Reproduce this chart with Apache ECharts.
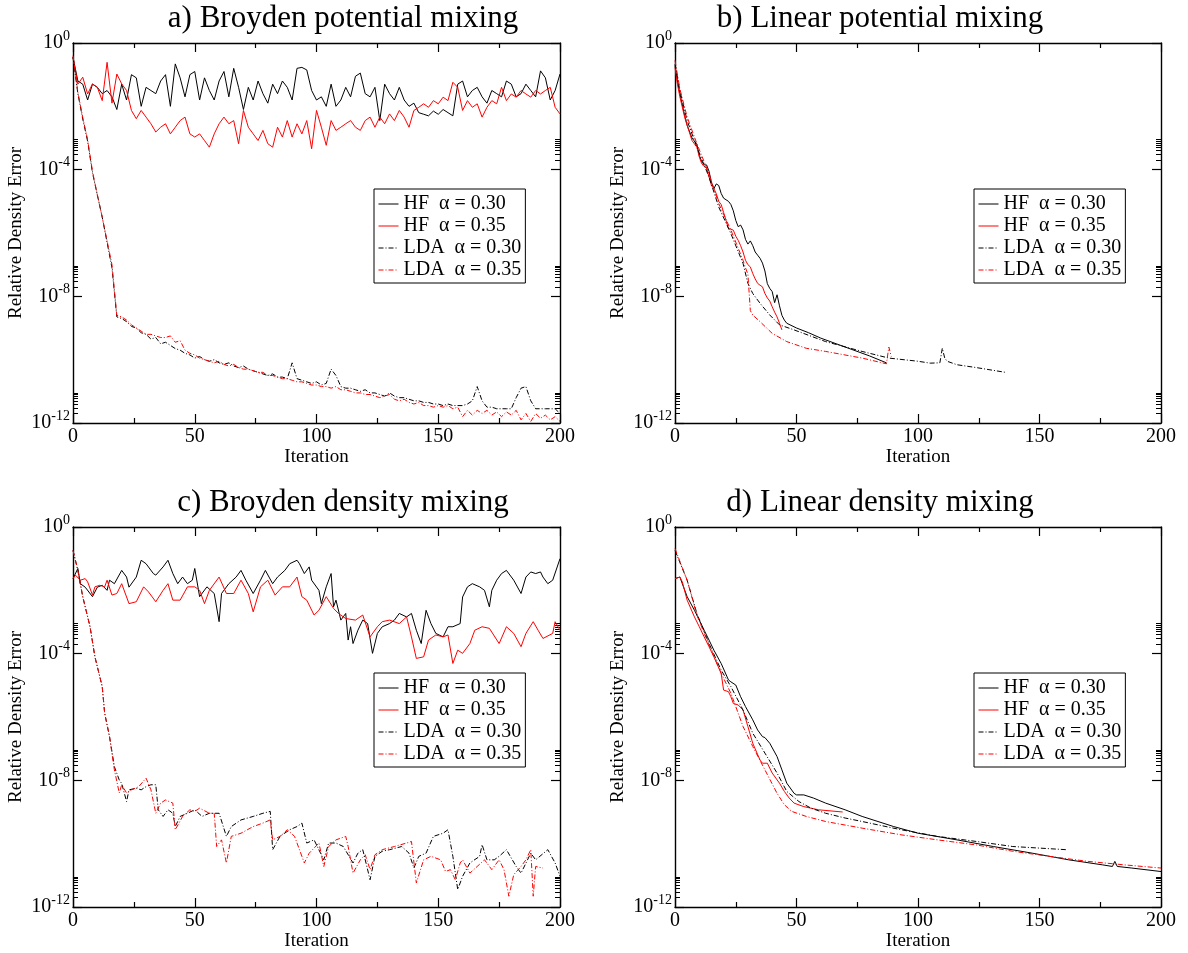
<!DOCTYPE html>
<html><head><meta charset="utf-8">
<script src="https://cdn.jsdelivr.net/npm/echarts@6/dist/echarts.min.js"></script>
<style>html,body{margin:0;padding:0;background:#fff}#c{width:1188px;height:953px}</style>
</head><body><div id="c"></div>
<script>
// ---------- text ----------
const SERIES_NAMES = ['HF  α = 0.30', 'HF  α = 0.35', 'LDA  α = 0.30', 'LDA  α = 0.35'];
const PANEL_TITLES = ['a) Broyden potential mixing', 'b) Linear potential mixing', 'c) Broyden density mixing', 'd) Linear density mixing'];
const X_NAME = 'Iteration';
const Y_NAME = 'Relative Density Error';
// y tick labels are 10^k for these exponents
const Y_EXPONENTS = [-12, -8, -4, 0];
const Y_MINOR_MULTIPLIERS = [2, 3, 4, 5, 6, 7, 8, 9];

// ---------- data (values stored as log10 of the relative density error) ----------
// panel a: every second iteration
const A_ITER = [0,2,4,6,8,10,12,14,16,18,20,22,24,26,28,30,32,34,36,38,40,42,44,46,48,50,52,54,56,58,60,62,64,66,68,70,72,74,76,78,80,82,84,86,88,90,92,94,96,98,100,102,104,106,108,110,112,114,116,118,120,122,124,126,128,130,132,134,136,138,140,142,144,146,148,150,152,154,156,158,160,162,164,166,168,170,172,174,176,178,180,182,184,186,188,190,192,194,196,198,200];
const A_HF30 = [-0.45,-1.2,-1.3,-1.8,-1.3,-1.4,-1.6,-1.5,-1.7,-2.1,
 -1.3,-1.8,-1.0,-1.1,-2.0,-1.4,-1.5,-1.6,-1.2,-1.0,
 -2.0,-0.66,-1.1,-1.7,-1.0,-0.9,-1.8,-1.1,-1.5,-1.8,
 -1.2,-0.9,-1.7,-0.8,-1.4,-2.1,-1.4,-1.8,-1.2,-1.6,
 -1.9,-1.3,-1.6,-1.2,-1.4,-1.8,-0.8,-0.77,-0.85,-1.5,
 -1.8,-1.7,-2.0,-1.3,-2.0,-1.8,-1.4,-1.7,-1.05,-0.95,
 -1.6,-1.7,-1.4,-2.45,-1.3,-1.6,-1.8,-1.4,-1.8,-2.0,
 -1.9,-2.2,-2.25,-2.3,-2.15,-2.25,-2.1,-2.2,-2.3,-1.3,
 -1.2,-1.7,-1.5,-1.4,-1.7,-1.9,-1.5,-1.6,-1.7,-1.2,
 -1.3,-1.7,-1.6,-1.3,-1.5,-1.7,-0.88,-1.1,-1.8,-1.5,
 -0.98];
const A_HF35 = [-0.45,-1.3,-1.08,-1.61,-1.29,-1.4,-1.82,-0.61,-1.9,-0.98,
 -1.29,-1.5,-2.13,-2.39,-2.13,-2.34,-2.55,-2.81,-2.66,-2.55,
 -2.87,-2.66,-2.45,-2.34,-2.87,-2.97,-2.87,-3.08,-3.29,-2.87,
 -2.55,-2.34,-2.55,-2.45,-3.18,-2.13,-2.66,-2.87,-3.08,-2.76,
 -3.18,-3.29,-2.66,-2.97,-2.45,-2.97,-2.55,-2.87,-2.45,-3.34,
 -2.13,-2.66,-3.23,-2.45,-2.76,-2.66,-2.55,-2.45,-2.66,-2.76,
 -2.45,-2.34,-2.66,-2.34,-2.55,-2.24,-2.45,-2.13,-2.34,-2.66,
 -2.13,-2.03,-1.92,-2.03,-1.82,-1.92,-1.71,-1.82,-1.24,-1.4,
 -2.13,-1.82,-2.03,-1.92,-2.34,-2.03,-1.82,-1.92,-1.4,-1.82,
 -1.61,-1.71,-1.5,-1.61,-1.71,-1.5,-1.61,-1.5,-1.4,-2.03,
 -2.24];
const A_LDA30 = [-0.45,-1.6,-2.4,-3.1,-4.1,-4.8,-5.5,-6.3,-7.1,-8.65,
 -8.7,-8.8,-8.95,-9.0,-9.15,-9.2,-9.35,-9.3,-9.5,-9.45,
 -9.55,-9.65,-9.7,-9.8,-9.85,-9.95,-9.9,-10.0,-10.05,-10.0,
 -10.1,-10.15,-10.1,-10.2,-10.25,-10.2,-10.3,-10.35,-10.4,-10.45,
 -10.5,-10.45,-10.55,-10.55,-10.6,-10.1,-10.6,-10.65,-10.7,-10.75,
 -10.7,-10.8,-10.75,-10.3,-10.5,-10.85,-10.9,-10.9,-10.95,-11.0,
 -10.95,-11.05,-11.05,-11.1,-11.15,-11.05,-11.15,-11.2,-11.2,-11.25,
 -11.3,-11.3,-11.35,-11.35,-11.4,-11.4,-11.45,-11.4,-11.45,-11.45,
 -11.45,-11.4,-11.3,-10.85,-11.3,-11.5,-11.5,-11.55,-11.55,-11.55,
 -11.55,-11.2,-10.9,-10.85,-11.3,-11.55,-11.55,-11.55,-11.55,-11.55,
 -11.7];
const A_LDA35 = [-0.4,-1.55,-2.35,-3.05,-4.05,-4.8,-5.5,-6.25,-7.0,-8.6,
 -8.65,-8.75,-8.9,-9.0,-9.1,-9.2,-9.2,-9.25,-9.3,-9.3,
 -9.25,-9.45,-9.4,-9.7,-9.8,-9.85,-9.95,-10.0,-10.05,-10.1,
 -10.05,-10.15,-10.2,-10.15,-10.25,-10.3,-10.3,-10.35,-10.4,-10.4,
 -10.5,-10.5,-10.55,-10.6,-10.6,-10.65,-10.7,-10.7,-10.75,-10.8,
 -10.8,-10.85,-10.85,-10.9,-10.85,-10.95,-10.95,-11.0,-11.05,-11.05,
 -11.1,-11.1,-11.15,-11.2,-11.15,-11.1,-11.25,-11.3,-11.25,-11.35,
 -11.4,-11.35,-11.45,-11.45,-11.5,-11.45,-11.5,-11.45,-11.55,-11.5,
 -11.8,-11.6,-11.75,-11.6,-11.7,-11.6,-11.75,-11.65,-11.8,-11.65,
 -11.75,-11.6,-11.9,-11.7,-11.95,-11.7,-11.85,-11.75,-11.9,-11.8,
 -11.95];

// panels b, c, d: [iteration, log10 error]
const B_HF30 = [[0,-0.71],[1,-1.2],[2,-1.6],[4,-2.3],[5,-2.6],[7,-3.0],[9,-3.2],[10,-3.55],[11,-3.75],[12,-3.85],[13,-3.85],[14,-4.05],[15,-4.4],[16,-4.6],[17,-4.45],[18,-4.5],[19,-4.75],[20,-4.9],[21,-4.95],[22,-5.0],[23,-5.1],[24,-5.3],[25,-5.6],[26,-5.8],[27,-5.75],[28,-5.9],[29,-6.2],[30,-6.35],[31,-6.25],[32,-6.4],[33,-6.6],[34,-6.7],[35,-6.8],[36,-6.95],[37,-7.2],[38,-7.6],[39,-7.75],[40,-7.85],[41,-8.2],[42,-7.95],[43,-8.3],[44,-8.6],[45,-8.75],[46,-8.85],[50,-9.0],[55,-9.15],[60,-9.32],[70,-9.6],[80,-9.88],[87,-10.1]];
const B_HF35 = [[0,-0.77],[1,-1.3],[2,-1.7],[4,-2.35],[5,-2.6],[7,-3.08],[9,-3.29],[10,-3.6],[11,-3.81],[12,-3.9],[13,-3.95],[14,-4.23],[15,-4.5],[16,-4.6],[17,-4.76],[18,-5.0],[19,-5.1],[20,-5.35],[21,-5.6],[22,-5.86],[23,-5.88],[24,-5.91],[25,-6.1],[26,-6.23],[27,-6.4],[28,-6.6],[29,-6.86],[30,-7.0],[31,-7.07],[32,-7.28],[33,-7.45],[34,-7.59],[35,-7.65],[36,-7.7],[37,-7.91],[38,-8.05],[39,-8.15],[40,-8.33],[41,-8.5],[42,-8.65],[43,-8.85],[44,-9.06]];
const B_LDA30 = [[0,-0.66],[2,-1.5],[5,-2.45],[9,-3.29],[14,-4.23],[18,-5.18],[23,-6.02],[28,-6.96],[30,-7.59],[32,-7.91],[35,-8.22],[39,-8.59],[43,-8.9],[49,-9.06],[62,-9.43],[77,-9.74],[88,-9.95],[100,-10.05],[105,-10.11],[109,-10.1],[110,-9.64],[111,-9.95],[112,-10.05],[116,-10.16],[124,-10.25],[136,-10.4]];
const B_LDA35 = [[0,-0.55],[2,-1.45],[5,-2.34],[9,-3.18],[14,-4.13],[18,-5.07],[23,-5.91],[28,-6.86],[29,-7.1],[30,-7.3],[31,-8.45],[32,-8.59],[35,-8.8],[40,-9.17],[46,-9.43],[54,-9.64],[62,-9.74],[77,-9.95],[87,-10.13],[88,-9.6],[89,-9.9]];

const C_HF30 = [[0,-1.63],[2,-1.31],[3,-1.79],[5,-1.9],[8,-2.2],[10,-1.9],[12,-1.84],[14,-2.0],[15,-1.68],[17,-1.79],[20,-1.37],[22,-1.58],[23,-1.9],[26,-1.58],[28,-1.05],[30,-1.16],[33,-1.47],[34,-1.52],[37,-1.26],[39,-1.05],[41,-1.47],[43,-1.79],[45,-1.58],[47,-1.79],[49,-1.68],[50,-1.31],[52,-2.2],[55,-1.89],[58,-2.1],[60,-2.99],[61,-2.1],[64,-1.79],[67,-1.58],[69,-1.37],[71,-1.68],[74,-2.1],[77,-1.68],[79,-1.37],[82,-1.79],[84,-1.58],[87,-1.37],[89,-1.16],[92,-1.05],[93,-1.16],[95,-1.47],[97,-1.26],[98,-1.68],[101,-2.0],[102,-2.42],[104,-1.89],[106,-1.47],[107,-2.52],[108,-2.31],[110,-2.94],[112,-2.73],[113,-3.57],[114,-3.15],[115,-3.68],[117,-3.26],[119,-2.94],[121,-3.05],[123,-3.99],[125,-3.36],[127,-3.15],[130,-3.05],[132,-2.94],[134,-2.73],[137,-2.84],[139,-2.73],[141,-3.26],[143,-3.68],[145,-2.63],[147,-3.05],[149,-3.36],[152,-3.47],[154,-3.15],[156,-3.15],[159,-3.05],[160,-2.21],[162,-1.89],[164,-1.79],[167,-1.89],[169,-2.0],[171,-2.52],[172,-2.0],[174,-1.68],[176,-1.47],[178,-1.37],[181,-1.68],[184,-2.1],[186,-1.58],[188,-1.42],[190,-1.47],[192,-1.42],[193,-1.58],[195,-1.79],[197,-1.68],[200,-1.0]];
const C_HF35 = [[0,-1.63],[1,-1.52],[3,-1.68],[5,-1.63],[6,-1.73],[8,-2.15],[9,-1.89],[11,-1.84],[13,-1.89],[14,-1.68],[16,-2.15],[18,-2.1],[20,-1.79],[23,-2.42],[26,-2.36],[29,-1.89],[31,-2.05],[34,-2.36],[37,-2.0],[39,-1.79],[41,-2.31],[44,-2.31],[47,-1.89],[50,-1.89],[52,-2.0],[54,-2.42],[56,-2.0],[60,-1.58],[63,-2.1],[66,-2.1],[69,-1.68],[72,-2.1],[74,-2.68],[77,-1.89],[80,-1.68],[83,-2.15],[86,-1.89],[89,-1.89],[92,-1.58],[94,-2.2],[96,-2.31],[99,-2.78],[101,-2.63],[104,-2.2],[107,-2.57],[109,-2.73],[112,-2.89],[116,-2.94],[119,-2.78],[122,-3.47],[125,-3.15],[127,-2.99],[130,-2.94],[134,-3.05],[137,-2.84],[139,-3.47],[141,-4.15],[144,-4.1],[146,-3.57],[149,-3.41],[152,-3.47],[154,-3.41],[156,-4.31],[158,-3.89],[160,-3.99],[163,-3.68],[165,-3.26],[168,-3.15],[171,-3.2],[175,-3.68],[178,-3.15],[181,-3.36],[184,-3.78],[186,-3.36],[189,-2.99],[191,-3.26],[193,-3.52],[197,-3.36],[198,-2.99],[200,-3.26]];
const C_LDA30 = [[0,-0.74],[2,-1.37],[4,-2.2],[7,-3.15],[9,-4.1],[12,-5.04],[13,-5.88],[15,-6.62],[17,-7.57],[19,-7.99],[20,-8.1],[22,-8.67],[23,-8.3],[26,-8.25],[28,-8.3],[30,-8.2],[32,-8.14],[34,-8.14],[35,-8.93],[37,-9.14],[39,-8.93],[41,-9.04],[42,-9.46],[44,-9.14],[47,-9.04],[50,-8.93],[53,-9.14],[56,-9.04],[60,-9.04],[63,-9.77],[65,-9.46],[69,-9.25],[74,-9.14],[78,-9.04],[81,-8.98],[82,-10.19],[85,-9.77],[89,-9.56],[92,-9.46],[94,-9.35],[96,-9.98],[99,-9.88],[103,-10.51],[105,-9.98],[108,-9.98],[111,-10.09],[115,-10.61],[117,-10.3],[119,-10.19],[122,-11.14],[124,-10.4],[127,-10.24],[130,-10.19],[135,-10.09],[138,-10.3],[140,-10.77],[142,-10.4],[145,-10.3],[148,-9.77],[152,-9.67],[154,-9.56],[156,-10.4],[158,-11.45],[160,-11.03],[163,-10.61],[167,-10.4],[168,-10.03],[170,-10.51],[173,-10.51],[175,-10.4],[178,-10.19],[182,-10.72],[184,-10.93],[188,-10.3],[190,-10.51],[195,-10.19],[198,-10.61],[200,-11.03]];
const C_LDA35 = [[0,-0.74],[2,-1.37],[4,-2.2],[7,-3.15],[9,-4.1],[12,-5.04],[13,-5.88],[15,-6.62],[17,-7.67],[19,-8.4],[20,-8.14],[22,-8.4],[24,-8.3],[27,-8.2],[30,-7.93],[32,-8.3],[34,-9.04],[36,-8.72],[38,-8.62],[41,-8.72],[42,-9.56],[45,-9.14],[48,-8.93],[50,-8.98],[52,-8.88],[56,-9.04],[58,-9.04],[59,-10.09],[61,-9.88],[63,-10.61],[65,-9.77],[69,-9.67],[74,-9.46],[78,-9.35],[81,-9.25],[82,-9.88],[85,-9.77],[88,-9.56],[91,-9.77],[95,-10.61],[97,-10.3],[101,-9.98],[103,-10.72],[105,-10.09],[108,-9.88],[112,-9.77],[113,-10.09],[115,-10.93],[118,-10.51],[120,-10.35],[122,-10.82],[124,-10.35],[127,-10.19],[132,-10.09],[137,-9.98],[139,-9.93],[141,-11.24],[144,-10.51],[147,-10.4],[151,-10.51],[153,-10.88],[155,-10.82],[157,-11.14],[159,-10.61],[160,-10.51],[163,-10.93],[166,-10.72],[169,-10.51],[172,-10.82],[175,-10.51],[177,-10.82],[179,-11.66],[181,-10.98],[184,-10.72],[186,-10.51],[188,-10.19],[189,-11.66],[190,-10.72],[193,-10.77]];

const D_HF30 = [[0,-1.63],[2,-1.58],[3,-1.79],[5,-2.2],[8,-2.63],[10,-2.94],[12,-3.26],[14,-3.57],[16,-3.89],[19,-4.31],[22,-4.83],[23,-4.89],[25,-4.99],[27,-5.36],[29,-5.67],[32,-6.09],[34,-6.41],[36,-6.62],[37,-6.65],[39,-6.83],[42,-7.25],[44,-7.67],[46,-8.09],[49,-8.41],[50,-8.46],[53,-8.46],[57,-8.56],[62,-8.72],[70,-8.93],[77,-9.14],[90,-9.46],[100,-9.67],[116,-9.88],[131,-10.09],[147,-10.3],[162,-10.51],[176,-10.67],[180,-10.72],[181,-10.56],[182,-10.72],[188,-10.77],[200,-10.88]];
const D_HF35 = [[0,-1.63],[2,-1.58],[3,-1.73],[5,-2.31],[8,-2.84],[10,-3.15],[12,-3.47],[14,-3.78],[16,-4.1],[19,-4.62],[20,-5.15],[22,-5.2],[23,-5.36],[24,-5.57],[26,-5.62],[28,-5.78],[30,-6.3],[32,-6.83],[35,-7.36],[36,-7.46],[38,-7.46],[40,-7.77],[43,-8.09],[45,-8.35],[47,-8.56],[49,-8.72],[53,-8.83],[59,-8.93],[69,-9.0]];
const D_LDA30 = [[0,-0.74],[5,-1.68],[9,-2.73],[14,-3.68],[19,-4.52],[23,-5.04],[28,-5.78],[32,-6.51],[37,-7.14],[42,-7.77],[46,-8.35],[51,-8.67],[56,-8.88],[62,-9.04],[70,-9.19],[77,-9.3],[93,-9.56],[108,-9.77],[124,-9.93],[139,-10.09],[161,-10.19]];
const D_LDA35 = [[0,-0.68],[5,-1.68],[9,-2.78],[14,-3.73],[19,-4.62],[23,-5.25],[28,-6.3],[32,-6.93],[37,-7.67],[42,-8.41],[45,-8.77],[48,-8.98],[54,-9.14],[62,-9.3],[77,-9.51],[93,-9.72],[108,-9.88],[124,-10.04],[139,-10.24],[154,-10.4],[170,-10.56],[185,-10.67],[200,-10.77]];

// ---------- build ----------
const zip = (xs, ys) => xs.map((x, i) => [x, ys[i]]);
const PANELS = [
  [zip(A_ITER, A_HF30), zip(A_ITER, A_HF35), zip(A_ITER, A_LDA30), zip(A_ITER, A_LDA35)],
  [B_HF30, B_HF35, B_LDA30, B_LDA35],
  [C_HF30, C_HF35, C_LDA30, C_LDA35],
  [D_HF30, D_HF35, D_LDA30, D_LDA35]
];
const toValues = pairs => pairs.map(p => [p[0], Math.pow(10, p[1])]);

const SERIF = "'Liberation Serif', 'Times New Roman', serif";
const GRIDS = [
  {left: 73, top: 43, width: 487, height: 380},
  {left: 675, top: 43, width: 486, height: 380},
  {left: 73, top: 527, width: 487, height: 380},
  {left: 675, top: 527, width: 486, height: 380}
];
const TITLE_POS = [[343, 3], [880, 3], [343, 487], [880, 487]];
const LEGEND_POS = [[374, 189], [974, 189], [374, 673], [974, 673]];
const STYLES = [
  {color: '#000000', type: 'solid'},
  {color: '#ff0000', type: 'solid'},
  {color: '#000000', type: [5, 2, 1, 2]},
  {color: '#ff0000', type: [5, 2, 1, 2]}
];

// minor tick positions on the exponent scale (k * 10^e)
const MINOR_POS = [];
Y_EXPONENTS.slice(0, 3).forEach(e => Y_MINOR_MULTIPLIERS.forEach(k => MINOR_POS.push(e + Math.log10(k))));

const AX = '#000';
const lineSt = {color: AX, width: 1.4};
const tickSt = {color: AX, width: 1.2};

const xAxes = [], yAxes = [], series = [];
GRIDS.forEach((g, gi) => {
  ['bottom', 'top'].forEach(pos => {
    xAxes.push({
      type: 'value', gridIndex: gi, min: 0, max: 200, interval: 50, position: pos,
      axisLine: {show: true, onZero: false, lineStyle: lineSt},
      axisTick: {show: true, inside: true, length: 9, lineStyle: tickSt},
      minorTick: {show: true, splitNumber: 2, length: 5, lineStyle: tickSt},
      splitLine: {show: false}, minorSplitLine: {show: false},
      axisLabel: {show: pos === 'bottom', margin: 4, color: '#000', fontFamily: SERIF, fontSize: 20},
      name: pos === 'bottom' ? X_NAME : '', nameLocation: 'middle', nameGap: 21,
      nameTextStyle: {color: '#000', fontFamily: SERIF, fontSize: 19}
    });
  });
  // data axis (log scale), hidden
  yAxes.push({type: 'log', logBase: 10, gridIndex: gi, min: 1e-12, max: 1, show: false});
  ['left', 'right'].forEach(pos => {
    yAxes.push({
      type: 'value', gridIndex: gi, min: -12, max: 0, interval: 4, position: pos,
      axisLine: {show: true, onZero: false, lineStyle: lineSt},
      axisTick: {show: true, inside: true, length: 9, lineStyle: tickSt},
      splitLine: {show: false},
      axisLabel: {
        show: pos === 'left', margin: 3,
        formatter: v => '{b|10}{s|' + v + '}',
        rich: {
          b: {fontFamily: SERIF, fontSize: 20, color: '#000', lineHeight: 20, verticalAlign: 'bottom'},
          s: {fontFamily: SERIF, fontSize: 14, color: '#000', lineHeight: 14, verticalAlign: 'bottom', padding: [0, 0, 10, 0]}
        }
      },
      name: pos === 'left' ? Y_NAME : '', nameLocation: 'middle', nameGap: 47,
      nameTextStyle: {color: '#000', fontFamily: SERIF, fontSize: 19}
    });
    yAxes.push({
      type: 'value', gridIndex: gi, min: -12, max: 0, position: pos,
      axisLine: {show: false}, splitLine: {show: false}, axisLabel: {show: false},
      axisTick: {show: true, inside: true, length: 5, customValues: MINOR_POS, lineStyle: {color: AX, width: 1}}
    });
  });
  PANELS[gi].forEach((pairs, si) => {
    series.push({
      type: 'line', name: SERIES_NAMES[si], xAxisIndex: gi * 2, yAxisIndex: gi * 5,
      data: toValues(pairs), symbol: 'none', showSymbol: false, smooth: false,
      lineStyle: {color: STYLES[si].color, width: 1, type: STYLES[si].type},
      itemStyle: {color: STYLES[si].color},
      emphasis: {disabled: true}, animation: false
    });
  });
});

const option = {
  backgroundColor: '#ffffff',
  animation: false,
  title: PANEL_TITLES.map((t, i) => ({
    text: t, left: TITLE_POS[i][0], top: TITLE_POS[i][1], textAlign: 'center', padding: 0,
    textStyle: {fontFamily: SERIF, fontSize: 31, fontWeight: 'normal', color: '#000'}
  })),
  grid: GRIDS,
  xAxis: xAxes,
  yAxis: yAxes,
  legend: LEGEND_POS.map(p => ({
    left: p[0], top: p[1], orient: 'vertical', data: SERIES_NAMES,
    backgroundColor: '#fff', borderColor: '#000', borderWidth: 1,
    padding: [5, 4, 3, 4], itemWidth: 20, itemHeight: 12, itemGap: 2,
    selectedMode: false, inactiveColor: '#000',
    itemStyle: {opacity: 0},
    lineStyle: {width: 1},
    textStyle: {fontFamily: SERIF, fontSize: 20, lineHeight: 16, color: '#000'}
  })),
  series: series
};
const chart = echarts.init(document.getElementById('c'), null, {renderer: 'canvas'});
chart.setOption(option);
</script></body></html>
